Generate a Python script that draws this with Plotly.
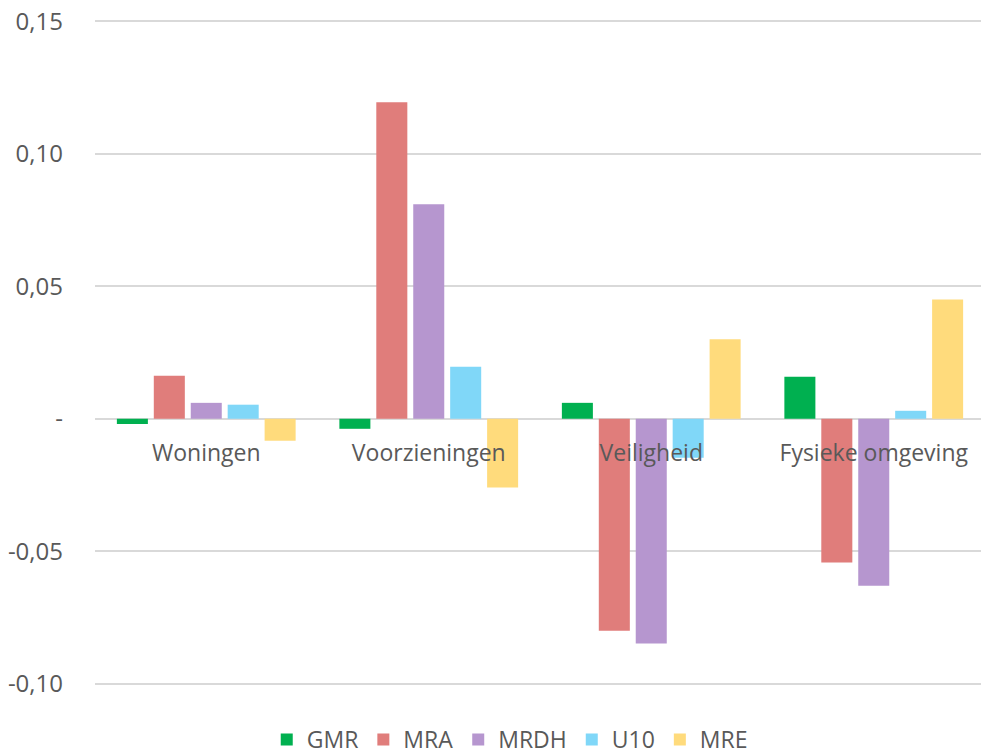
import plotly.graph_objects as go

categories = ["Woningen", "Voorzieningen", "Veiligheid", "Fysieke omgeving"]
series_names = ["GMR", "MRA", "MRDH", "U10", "MRE"]
gmr = [-0.002, -0.0038, 0.006, 0.0158]
mra = [0.0162, 0.1195, -0.080, -0.0543]
mrdh = [0.006, 0.081, -0.0848, -0.063]
u10 = [0.0053, 0.0196, -0.0147, 0.003]
mre = [-0.0083, -0.026, 0.030, 0.045]
series_values = [gmr, mra, mrdh, u10, mre]
colors = ["#00B050", "#E07D7B", "#B696CF", "#80D7F8", "#FFDB7C"]

y_tickvals = [-0.10, -0.05, 0, 0.05, 0.10, 0.15]
y_ticktext = ["-0,10", "-0,05", "-", "0,05", "0,10", "0,15"]

fig = go.Figure()
for name, vals, col in zip(series_names, series_values, colors):
    fig.add_trace(go.Bar(name=name, x=categories, y=vals, marker=dict(color=col, line=dict(width=0))))

font_family = "Open Sans, Noto Sans, sans-serif"
fig.update_layout(
    width=981, height=743,
    margin=dict(l=87, r=4, t=12, b=66, autoexpand=False),
    paper_bgcolor="white", plot_bgcolor="white",
    barmode="group", bargap=0.17, bargroupgap=0.16,
    font=dict(family=font_family, size=23, color="#595959"),
    showlegend=True,
    legend=dict(orientation="h", x=0.466, xanchor="center", y=-0.082, yanchor="middle",
                font=dict(size=23, color="#595959"), itemwidth=30, traceorder="normal"),
    xaxis=dict(anchor="free", position=0.4, showline=False, ticks="", showgrid=False,
               automargin=False, range=[-0.5, 3.5],
               tickfont=dict(size=23, color="#595959"), ticklabelstandoff=18),
    yaxis=dict(range=[-0.1005, 0.1505], tickvals=y_tickvals, ticktext=y_ticktext,
               automargin=False, ticklabeloverflow="allow",
               showgrid=True, gridcolor="#D9D9D9", gridwidth=1.5,
               zeroline=True, zerolinecolor="#D9D9D9", zerolinewidth=2,
               showline=False, ticks="", ticklabelstandoff=31,
               tickfont=dict(size=24, color="#595959")),
)
fig.write_html("out.html")
